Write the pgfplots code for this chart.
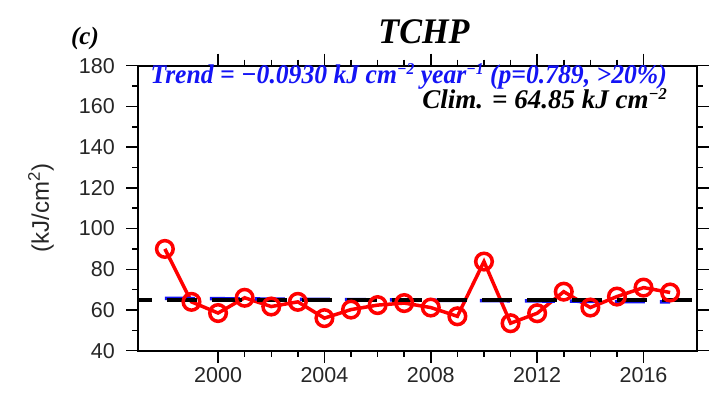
\documentclass[border=0pt]{standalone}
\usepackage{pgfplots}
\pgfplotsset{compat=1.18}
\usepackage{fontspec}
\setmainfont{Liberation Serif}
\newfontfamily\sans{Liberation Sans}
\definecolor{trendblue}{RGB}{20,20,245}
\newcommand{\supx}[1]{\raisebox{0.31em}{\fontsize{16.5}{16.5}\selectfont #1}}
\begin{document}
\begin{tikzpicture}
\path[use as bounding box] (-138.3pt,-54.3pt) rectangle (578.7pt,350.7pt);
\begin{axis}[
  at={(0pt,0pt)}, anchor=south west,
  scale only axis, width=558.4pt, height=285pt,
  xmin=1997, xmax=2018, ymin=40, ymax=180,
  xtick={2000,2004,2008,2012,2016},
  minor x tick num=3,
  ytick={40,60,80,100,120,140,160,180},
  minor y tick num=1,
  tick align=outside,
  major tick length=12pt, minor tick length=6pt,
  axis line style={line width=2pt},
  every tick/.style={black, line width=1.5pt},
  /pgf/number format/1000 sep={},
  /pgf/number format/assume math mode=true,
  ticklabel style={font=\sans\fontsize{21.5}{21.5}\selectfont, text=black!85},
  yticklabel style={xshift=-8pt},
  xticklabel style={yshift=-1pt},
  clip=false,
]
\addplot[red, line width=3.5pt, mark=o, mark size=8.3pt, mark options={line width=3.5pt, solid}]
coordinates {
(1998,90.0) (1999,64.0) (2000,58.5) (2001,66.0) (2002,61.7) (2003,64.0) (2004,56.0)
(2005,60.2) (2006,62.4) (2007,63.4) (2008,61.2) (2009,56.9) (2010,83.8) (2011,53.5)
(2012,58.4) (2013,69.0) (2014,61.2) (2015,66.6) (2016,71.0) (2017,68.6)
};
\addplot[trendblue, line width=3.5pt, dash pattern=on 30pt off 15pt]
coordinates {(1998,65.73) (2017,63.97)};
\addplot[black, line width=3.5pt, dash pattern=on 30pt off 15pt, dash phase=16pt]
coordinates {(1997,64.85) (2018,64.85)};
\end{axis}
\node[anchor=base, xscale=0.95, font=\fontsize{36}{36}\selectfont\bfseries\itshape] at (285.7pt,306.7pt) {TCHP};
\node[anchor=base, font=\fontsize{25}{25}\selectfont\bfseries\itshape] at (-53.3pt,305.7pt) {(c)};
\node[anchor=base east, inner sep=0pt, xscale=0.95, text=trendblue, font=\fontsize{27}{27}\selectfont\bfseries\itshape] at (528.7pt,267.5pt)
  {Trend = −0.0930 kJ cm\supx{−2} year\supx{−1} (p=0.789, >20\%)};
\node[anchor=base east, inner sep=0pt, font=\fontsize{27}{27}\selectfont\bfseries\itshape] at (528.7pt,242.5pt)
  {Clim. = 64.85 kJ cm\supx{−2}};
\node[rotate=90, font=\sans\fontsize{24}{24}\selectfont, text=black!85] at (-97.3pt,142.5pt) {(kJ/cm\textsuperscript{2})};
\end{tikzpicture}
\end{document}
